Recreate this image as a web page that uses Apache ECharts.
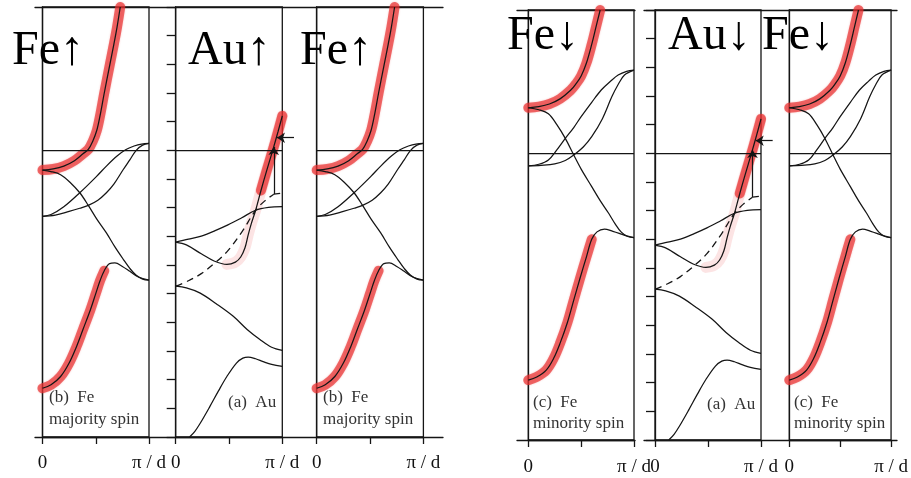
<!DOCTYPE html>
<html><head><meta charset="utf-8">
<script src="https://cdn.jsdelivr.net/npm/echarts@6/dist/echarts.min.js"></script>
<style>html,body{margin:0;padding:0;background:#fff}#c{width:911px;height:478px}</style>
</head><body><div id="c"></div><script>
// ---------- data (x in units of pi/d, energy in axis units, Fermi level = 0) ----------
const xTickLabels = ['0', 'π / d'];
const panelNames = ['Fe↑', 'Au↑', 'Fe↑', 'Fe↓', 'Au↓', 'Fe↓'];
const captions = ['(b)  Fe\nmajority spin', '(a)  Au', '(b)  Fe\nmajority spin',
                  '(c)  Fe\nminority spin', '(a)  Au', '(c)  Fe\nminority spin'];

// Fe majority spin
const feMajUpper = [[0,-0.69],[0.1,-0.65],[0.2,-0.55],[0.3,-0.36],[0.38,-0.12],[0.43,0.03],[0.47,0.3],[0.51,0.7],[0.54,1.2],[0.58,2.0],[0.63,2.95],[0.67,3.7],[0.7,4.3],[0.73,5.0]];
const feMajDown = [[0,-0.69],[0.08,-0.74],[0.17,-0.85],[0.26,-1.12],[0.35,-1.48],[0.43,-1.92],[0.51,-2.4],[0.6,-2.88],[0.68,-3.37],[0.76,-3.81],[0.82,-4.12],[0.88,-4.36],[0.94,-4.49],[1,-4.53]];
const feMajRiseA = [[0,-2.3],[0.08,-2.24],[0.2,-1.97],[0.35,-1.48],[0.51,-0.9],[0.6,-0.55],[0.7,-0.2],[0.78,0.02],[0.86,0.15],[0.93,0.22],[1,0.24]];
const feMajRiseB = [[0,-2.3],[0.12,-2.26],[0.25,-2.13],[0.35,-2.02],[0.43,-1.92],[0.52,-1.74],[0.6,-1.48],[0.67,-1.18],[0.76,-0.66],[0.82,-0.33],[0.88,0.0],[0.94,0.18],[1,0.24]];
const feMajLower = [[0,-8.3],[0.08,-8.18],[0.17,-7.89],[0.25,-7.42],[0.32,-6.84],[0.38,-6.25],[0.45,-5.56],[0.5,-5.0],[0.54,-4.55],[0.58,-4.2],[0.63,-3.95],[0.68,-3.93],[0.75,-4.05],[0.82,-4.22],[0.9,-4.42],[1,-4.53]];
const feMajLowerRedCount = 10;

// Fe minority spin
const feMinUpper = [[0,1.59],[0.1,1.63],[0.2,1.72],[0.3,1.9],[0.4,2.2],[0.45,2.42],[0.5,2.7],[0.55,3.15],[0.6,3.8],[0.64,4.4],[0.68,5.0]];
const feMinDown = [[0,1.59],[0.1,1.52],[0.19,1.38],[0.27,1.0],[0.35,0.52],[0.43,-0.06],[0.5,-0.55],[0.6,-1.16],[0.68,-1.65],[0.76,-2.09],[0.82,-2.45],[0.88,-2.75],[0.94,-2.9],[1,-2.94]];
const feMinRiseA = [[0,-0.44],[0.1,-0.38],[0.19,-0.23],[0.27,0.12],[0.35,0.52],[0.43,0.9],[0.5,1.28],[0.6,1.78],[0.69,2.21],[0.78,2.52],[0.85,2.73],[0.93,2.86],[1,2.9]];
const feMinRiseB = [[0,-0.44],[0.12,-0.42],[0.25,-0.37],[0.35,-0.25],[0.43,-0.06],[0.52,0.22],[0.6,0.58],[0.7,1.2],[0.79,1.97],[0.85,2.4],[0.91,2.73],[1,2.9]];
const feMinLower = [[0,-7.91],[0.08,-7.8],[0.17,-7.56],[0.24,-7.15],[0.3,-6.63],[0.37,-5.9],[0.43,-5.12],[0.49,-4.35],[0.55,-3.61],[0.6,-3.0],[0.65,-2.74],[0.72,-2.64],[0.8,-2.72],[0.86,-2.79],[0.93,-2.88],[1,-2.94]];
const feMinLowerRedCount = 10;

// Au
const auBandA = [[0,-3.2],[0.1,-3.3],[0.24,-3.61],[0.36,-3.86],[0.48,-3.98],[0.56,-3.9],[0.61,-3.72],[0.65,-3.4],[0.68,-2.95],[0.71,-2.55],[0.75,-2.09],[0.8,-1.4],[0.85,-0.75],[0.91,0],[0.96,0.65],[1,1.2]];
const auBandAStrongFrom = 11, auBandAFaintFrom = 4;
const auBandB = [[0,-3.2],[0.12,-3.1],[0.24,-2.99],[0.37,-2.8],[0.49,-2.6],[0.62,-2.35],[0.75,-2.09],[0.87,-1.99],[1,-1.96]];
const auDashed = [[0,-4.74],[0.12,-4.55],[0.24,-4.3],[0.37,-3.92],[0.49,-3.5],[0.62,-2.85],[0.75,-2.09],[0.84,-1.75],[0.92,-1.53]];
const auLower1 = [[0,-4.74],[0.1,-4.8],[0.23,-4.98],[0.38,-5.35],[0.54,-5.79],[0.67,-6.25],[0.79,-6.6],[0.9,-6.87],[1,-6.98]];
const auLower2 = [[0.13,-10],[0.18,-9.8],[0.23,-9.52],[0.32,-8.94],[0.4,-8.4],[0.48,-7.89],[0.57,-7.42],[0.63,-7.25],[0.68,-7.21],[0.75,-7.27],[0.82,-7.37],[0.9,-7.47],[1,-7.54]];
const auArrowFoot = [[0.92,-1.53],[0.98,-1.5]];
const auArrowUp = [[0.92,-1.53],[0.92,0.12]];
const auArrowLeft = [[1.11,0.44],[0.95,0.44]];

// ---------- layout ----------
const INK = '#151515';
const SERIF = '"Liberation Serif","DejaVu Serif",serif';
const panels = [
  {kind:'feMaj', left:42.5, top:7,  width:106.5, labelMargin:17},
  {kind:'au',    left:175.7,top:7,  width:106.6, labelMargin:17},
  {kind:'feMaj', left:316.7,top:7,  width:106.7, labelMargin:17},
  {kind:'feMin', left:528.3,top:10, width:105.7, labelMargin:18},
  {kind:'au',    left:655,  top:10, width:106,   labelMargin:18},
  {kind:'feMin', left:789.3,top:10, width:106,   labelMargin:18}
];
const bgFrames = [
  {left:35, top:7, width:408},
  {left:517, top:10, width:118},
  {left:644, top:10, width:253}
];
const nameLayout = [[12,27],[188,27],[300,27],[507,12],[668,12],[762,12]];
const capLayout = [[49,387,22],[228,392,22],[323,387,22],[533,392.5,21],[707,394.5,21],[794,392.5,21]];

const grids = [], xAxes = [], yAxes = [], series = [], titles = [];
const lineSt = {color: INK, width: 1.3};

bgFrames.forEach(f => {
  const gi = grids.length;
  grids.push({left:f.left, top:f.top, width:f.width, height:430, show:false});
  ['bottom','top'].forEach(pos => xAxes.push({gridIndex:gi, type:'value', min:0, max:1, position:pos,
    axisLine:{show:true, onZero:false, lineStyle:lineSt}, axisTick:{show:false}, axisLabel:{show:false}, splitLine:{show:false}}));
  yAxes.push({gridIndex:gi, type:'value', min:0, max:1, show:false});
});

function addLine(xi, yi, data, extra) {
  series.push(Object.assign({type:'line', xAxisIndex:xi, yAxisIndex:yi, data:data, symbol:'none', showSymbol:false,
    smooth:0.35, silent:true, z:4, lineStyle:{color:INK, width:1.25}}, extra || {}));
}
function addGlow(xi, yi, data, alpha, width) {
  addLine(xi, yi, data, {z:3, clip:false, lineStyle:{color:'rgba(232,45,45,' + alpha + ')', width:width || 10,
    cap:'round', join:'round', shadowBlur:2, shadowColor:'rgba(232,45,45,' + (alpha * 0.6) + ')'}});
}

panels.forEach((p, i) => {
  const gi = grids.length;
  grids.push({left:p.left, top:p.top, width:p.width, height:430, show:true, borderColor:INK, borderWidth:1.3, backgroundColor:'transparent'});
  const xi = xAxes.length;
  xAxes.push({gridIndex:gi, type:'value', min:0, max:1, interval:0.5,
    axisLine:{show:true, onZero:false, lineStyle:lineSt},
    axisTick:{show:true, inside:false, length:7, lineStyle:{color:INK, width:1.3}},
    axisLabel:{show:true, margin:p.labelMargin, fontFamily:SERIF, fontSize:19, color:'#111',
      formatter: v => v === 0 ? xTickLabels[0] : (v === 1 ? xTickLabels[1] : '')},
    splitLine:{show:false}});
  const yi = yAxes.length;
  yAxes.push({gridIndex:gi, type:'value', min:-10, max:5, interval:1,
    axisLine:{show:true, onZero:false, lineStyle:lineSt},
    axisTick:{show:p.kind === 'au', inside:false, length:9, lineStyle:{color:INK, width:1.3}},
    axisLabel:{show:false}, splitLine:{show:false}});

  const fermi = {silent:true, symbol:'none', label:{show:false}, lineStyle:{color:INK, width:1.25, type:'solid'}, data:[{yAxis:0}]};

  if (p.kind === 'au') {
    addGlow(xi, yi, auBandA.slice(auBandAFaintFrom), 0.12, 11);
    addGlow(xi, yi, auBandA.slice(auBandAStrongFrom), 0.68, 10);
    addLine(xi, yi, auBandA, {markLine: fermi});
    addLine(xi, yi, auBandB);
    addLine(xi, yi, auDashed, {lineStyle:{color:INK, width:1.3, type:[7,5]}});
    addLine(xi, yi, auLower1);
    addLine(xi, yi, auLower2);
    addLine(xi, yi, auArrowFoot, {smooth:false});
    series.push({type:'lines', coordinateSystem:'cartesian2d', xAxisIndex:xi, yAxisIndex:yi, clip:false, silent:true, z:5,
      symbol:['none','arrow'], symbolSize:[0,8], lineStyle:{color:INK, width:1.25, opacity:1, curveness:0},
      data:[{coords:auArrowUp}, {coords:auArrowLeft}]});
  } else {
    const d = p.kind === 'feMaj'
      ? {up:feMajUpper, down:feMajDown, a:feMajRiseA, b:feMajRiseB, low:feMajLower, n:feMajLowerRedCount}
      : {up:feMinUpper, down:feMinDown, a:feMinRiseA, b:feMinRiseB, low:feMinLower, n:feMinLowerRedCount};
    addGlow(xi, yi, d.up, 0.68, 10);
    addGlow(xi, yi, d.low.slice(0, d.n), 0.68, 10);
    addLine(xi, yi, d.up, {markLine: fermi});
    addLine(xi, yi, d.down);
    addLine(xi, yi, d.a);
    addLine(xi, yi, d.b);
    addLine(xi, yi, d.low);
  }

  titles.push({text:panelNames[i], left:nameLayout[i][0], top:nameLayout[i][1], padding:0, z:10,
    textStyle:{fontFamily:SERIF, fontWeight:'normal', fontSize:48, color:'#000'}});
  titles.push({text:captions[i], left:capLayout[i][0], top:capLayout[i][1], padding:0, z:10,
    textStyle:{fontFamily:SERIF, fontWeight:'normal', fontSize:17, lineHeight:capLayout[i][2], color:'#333'}});
});

const chart = echarts.init(document.getElementById('c'), null, {renderer:'canvas'});
chart.setOption({animation:false, backgroundColor:'#fff', title:titles, grid:grids, xAxis:xAxes, yAxis:yAxes, series:series});
</script></body></html>
